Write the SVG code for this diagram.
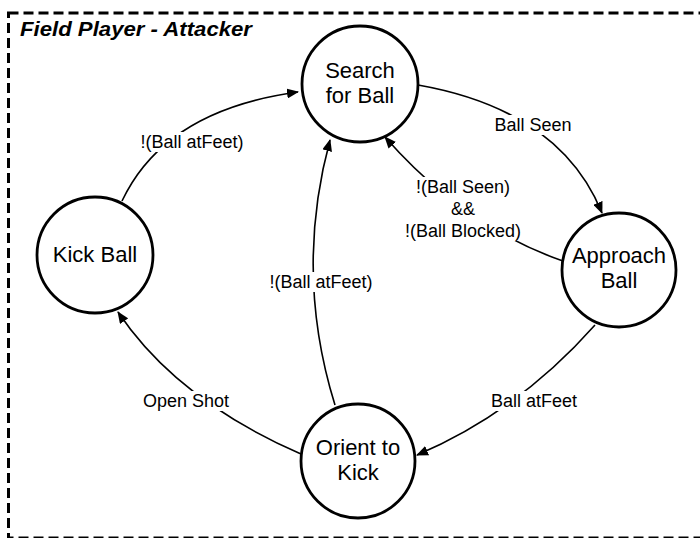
<svg xmlns="http://www.w3.org/2000/svg" width="700" height="538" viewBox="0 0 700 538">
  <defs>
    <marker id="arrow" viewBox="0 0 12 10" refX="11" refY="5" markerWidth="12" markerHeight="10" markerUnits="userSpaceOnUse" orient="auto">
      <path d="M0,0 L12,5 L0,10 Z" fill="#000"/>
    </marker>
    <style>
      .frame { fill: none; stroke: #000; stroke-width: 3; stroke-dasharray: 10 5; }
      .title { font-family: "Liberation Sans", Arial, sans-serif; font-weight: bold; font-style: italic; font-size: 19.5px; fill: #000; }
      .state circle { fill: #fff; stroke: #000; stroke-width: 2.8; }
      .state text { font-family: "Liberation Sans", Arial, sans-serif; font-size: 22px; fill: #000; text-anchor: middle; }
      .edge { fill: none; stroke: #000; stroke-width: 1.6; marker-end: url(#arrow); }
      .label text { font-family: "Liberation Sans", Arial, sans-serif; font-size: 18px; fill: #000; text-anchor: middle; }
      .label rect { fill: #fff; }
    </style>
  </defs>

  <!-- enclosing state-machine frame -->
  <rect class="frame" x="8.5" y="13" width="700" height="525"/>
  <text class="title" x="20" y="36" textLength="232" lengthAdjust="spacingAndGlyphs">Field Player - Attacker</text>

  <!-- transitions -->
  <g id="connectors">
    <path class="edge" d="M122,201 Q165,110 298,92"/>
    <path class="edge" d="M418,85 Q560,110 602,213"/>
    <path class="edge" d="M563,261 Q464,227 385,137"/>
    <path class="edge" d="M595,325 Q518,412 417,455"/>
    <path class="edge" d="M301,454 Q177,400 118,312"/>
    <path class="edge" d="M335,405 Q294,273 330,140"/>
  </g>

  <!-- transition labels -->
  <g id="labels" class="label">
    <rect x="135" y="132" width="114" height="20"/>
    <text x="192" y="148">!(Ball atFeet)</text>
    <rect x="491" y="115" width="85" height="20"/>
    <text x="533" y="131">Ball Seen</text>
    <rect x="398" y="177" width="132" height="64"/>
    <text x="463" y="193">!(Ball Seen)</text>
    <text x="463" y="215">&amp;&amp;</text>
    <text x="463" y="237">!(Ball Blocked)</text>
    <rect x="264" y="272" width="114" height="20"/>
    <text x="321" y="288">!(Ball atFeet)</text>
    <rect x="138" y="391" width="97" height="20"/>
    <text x="186" y="407">Open Shot</text>
    <rect x="485" y="391" width="98" height="20"/>
    <text x="534" y="407">Ball atFeet</text>
  </g>

  <!-- states -->
  <g id="search-for-ball" class="state">
    <circle cx="360" cy="84" r="58"/>
    <text x="360" y="78">Search</text>
    <text x="360" y="103">for Ball</text>
  </g>
  <g id="approach-ball" class="state">
    <circle cx="619" cy="270" r="57"/>
    <text x="619" y="263">Approach</text>
    <text x="619" y="288">Ball</text>
  </g>
  <g id="kick-ball" class="state">
    <circle cx="95" cy="255" r="58"/>
    <text x="95" y="262">Kick Ball</text>
  </g>
  <g id="orient-to-kick" class="state">
    <circle cx="358" cy="461" r="57"/>
    <text x="358" y="455">Orient to</text>
    <text x="358" y="480">Kick</text>
  </g>
</svg>
